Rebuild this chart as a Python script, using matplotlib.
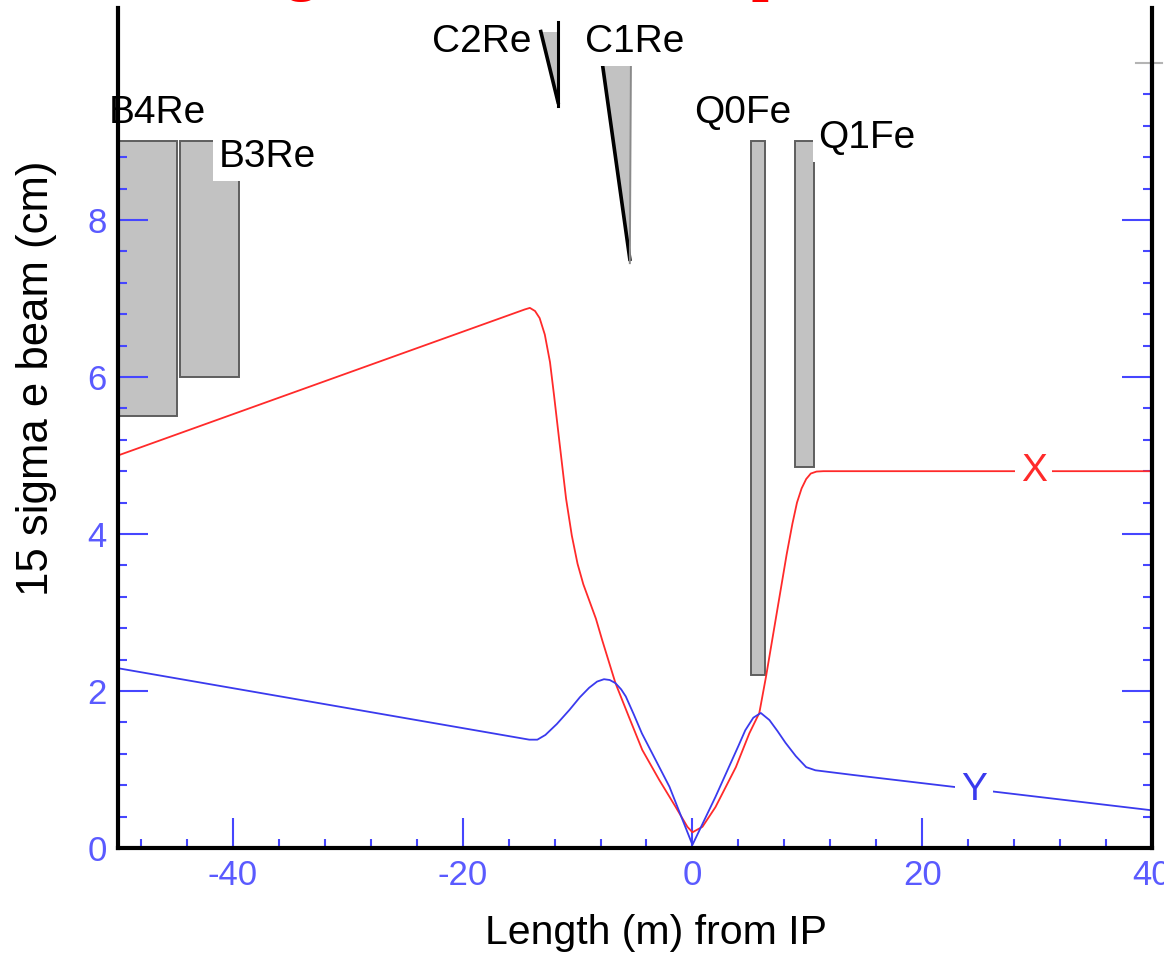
"""
Envelope 15 sigma do feixe de elétrons e aberturas dos magnetos traseiros.
"""

import matplotlib
matplotlib.use("Agg")
import matplotlib.pyplot as plt
import matplotlib.ticker as ticker

plt.rcParams.update({
    "font.family": "Liberation Sans",
    "font.size": 22,
    "axes.unicode_minus": False,
})

AZUL_EIXO = "#4646ff"
AZUL_TEXTO = "#5a5aff"
VERMELHO = "#ff2a2a"
AZUL_LINHA = "#3a3aee"
CINZA = "#c2c2c2"

# 15 sigma e beam, x plane (cm) vs length from IP (m)
S_X = [-50.0, -14.6, -14.15, -13.7, -13.3, -12.85, -12.4, -12.05, -11.6,
       -11.0, -10.5, -10.0, -9.5, -9.0, -8.4, -7.86, -6.7, -5.53, -4.37,
       -2.9, -1.45, -0.44, 0.0, 0.87, 2.0, 3.78, 4.95, 5.82, 6.4, 7.0, 7.6,
       8.2, 8.7, 9.1, 9.5, 9.9, 10.3, 10.8, 11.4, 40.0]
SIZE_X = [5.00, 6.86, 6.88, 6.84, 6.75, 6.54, 6.19, 5.77, 5.20,
          4.45, 3.98, 3.62, 3.36, 3.16, 2.92, 2.65, 2.10, 1.67, 1.25,
          0.87, 0.52, 0.27, 0.20, 0.27, 0.52, 1.03, 1.46, 1.72, 2.18, 2.70, 3.22,
          3.74, 4.13, 4.40, 4.58, 4.70, 4.77, 4.795, 4.80, 4.80]

# 15 sigma e beam, y plane (cm)
S_Y = [-50.0, -14.2, -13.5, -12.8, -11.8, -10.7, -9.8, -9.0, -8.3, -7.7,
       -7.2, -6.7, -6.2, -5.8, -5.1, -4.4, -2.0, 0.0, 2.0, 4.0, 4.6, 5.3,
       5.95, 6.7, 7.4, 8.1, 9.0, 9.9, 10.7, 14.0, 40.0]
SIZE_Y = [2.29, 1.38, 1.38, 1.44, 1.58, 1.76, 1.92, 2.04, 2.12, 2.15,
          2.14, 2.10, 2.02, 1.93, 1.70, 1.46, 0.78, 0.04, 0.65, 1.30, 1.50, 1.66,
          1.72, 1.63, 1.49, 1.34, 1.17, 1.03, 0.99, 0.93, 0.48]

# magnetos retangulares
MAG_NOMES = ["B4Re", "B3Re", "Q0Fe", "Q1Fe"]
MAG_INICIO = [-51.0, -44.6, 5.1, 8.9]
MAG_FIM = [-44.9, -39.5, 6.35, 10.6]
MAG_TOPO = [9.0, 9.0, 9.0, 9.0]
MAG_BASE = [5.5, 6.0, 2.2, 4.85]

# magnetos em cunha (vértices s, abertura)
CUNHA_NOMES = ["C2Re", "C1Re"]
CUNHA_S = [[-13.2, -11.7, -11.7], [-7.85, -5.35, -5.45]]
CUNHA_R = [[10.4, 10.4, 9.5], [10.0, 10.0, 7.5]]
CUNHA_BORDA_DIR = ["black", "#8a8a8a"]

ROTULOS = ["B4Re", "B3Re", "C2Re", "C1Re", "Q0Fe", "Q1Fe"]
ROTULO_S = [-46.55, -37.0, -18.3, -5.0, 4.37, 15.2]
ROTULO_R = [9.36, 8.80, 10.27, 10.27, 9.36, 9.04]

fig = plt.figure(figsize=(11.64, 9.57), dpi=100)
ax = fig.add_axes([118 / 1164, 109 / 957, 1034 / 1164, 840 / 957])

# magnetos
ax.bar(MAG_INICIO, [t - b for t, b in zip(MAG_TOPO, MAG_BASE)],
       width=[f - i for i, f in zip(MAG_INICIO, MAG_FIM)], bottom=MAG_BASE,
       align="edge", color=CINZA, edgecolor="#5e5e5e", linewidth=1.4, zorder=1)

for s, r, cor in zip(CUNHA_S, CUNHA_R, CUNHA_BORDA_DIR):
    ax.fill(s, r, color=CINZA, zorder=1, linewidth=0)
    ax.plot([s[0], s[2]], [r[0], r[2]], color="black", linewidth=2.6, zorder=1.5)
    ax.plot([s[1], s[2]], [r[1] + 0.12, r[2] - 0.05], color=cor,
            linewidth=2.2 if cor == "black" else 1.4, zorder=1.5)

# envelopes
ax.plot(S_X, SIZE_X, color=VERMELHO, linewidth=1.3, zorder=2)
ax.plot(S_Y, SIZE_Y, color=AZUL_LINHA, linewidth=1.3, zorder=2)

caixa = dict(boxstyle="square,pad=0.15", facecolor="white", edgecolor="none")
ax.text(29.7, 4.8, "X", color=VERMELHO, fontsize=28, ha="center", va="center",
        bbox=caixa, zorder=3)
ax.text(24.5, 0.74, "Y", color=AZUL_LINHA, fontsize=28, ha="center", va="center",
        bbox=caixa, zorder=3)

for nome, s, r in zip(ROTULOS, ROTULO_S, ROTULO_R):
    ax.text(s, r, nome, fontsize=28, color="black", ha="center", va="center",
            bbox=caixa, zorder=3, clip_on=False)

# eixo direito em azul e marca cinza em 10
ax.plot([39.88, 39.88], [0, 10], color=AZUL_EIXO, linewidth=1.5, zorder=2.4)
ax.plot([38.6, 40.9], [10, 10], color="#b4b4b4", linewidth=1.5, clip_on=False,
        zorder=2.4)

ax.set_xlim(-50, 40)
ax.set_ylim(0, 10.7)

ax.xaxis.set_major_locator(ticker.MultipleLocator(20))
ax.xaxis.set_minor_locator(ticker.MultipleLocator(4))
ax.yaxis.set_major_locator(ticker.FixedLocator([0, 2, 4, 6, 8]))
ax.yaxis.set_minor_locator(ticker.FixedLocator(
    [v * 0.4 for v in range(1, 26) if v % 5 != 0]))

ax.tick_params(which="both", direction="in", color=AZUL_EIXO, width=1.5,
               right=True, top=False, labelcolor=AZUL_TEXTO, labelsize=25)
ax.tick_params(which="major", length=21.6)
ax.tick_params(which="minor", length=6.5)
ax.tick_params(axis="y", pad=8)
ax.tick_params(axis="x", pad=8)
for lbl in ax.get_xticklabels() + ax.get_yticklabels():
    lbl.set_family(["Liberation Sans Narrow", "Liberation Sans"])

ax.spines["top"].set_visible(False)
for lado in ["left", "right", "bottom"]:
    ax.spines[lado].set_linewidth(3)
    ax.spines[lado].set_color("black")
    ax.spines[lado].set_zorder(10)

fig.text(656 / 1164, 1 - 933 / 957, "Length (m) from IP", fontsize=29.5,
         ha="center", va="center")
fig.text(37 / 1164, 1 - 378 / 957, "15 sigma e beam (cm)", fontsize=31.5,
         rotation=90, ha="center", va="center")

# título (cortado no topo da figura)
fig.text(55 / 1164, 1 + 11 / 957, "Rear Magnets and e beam profile",
         fontsize=44, color="red", fontweight="bold", family="Liberation Serif",
         va="baseline", ha="left")

fig.savefig("out.png", dpi=100, facecolor="white")
plt.close(fig)
